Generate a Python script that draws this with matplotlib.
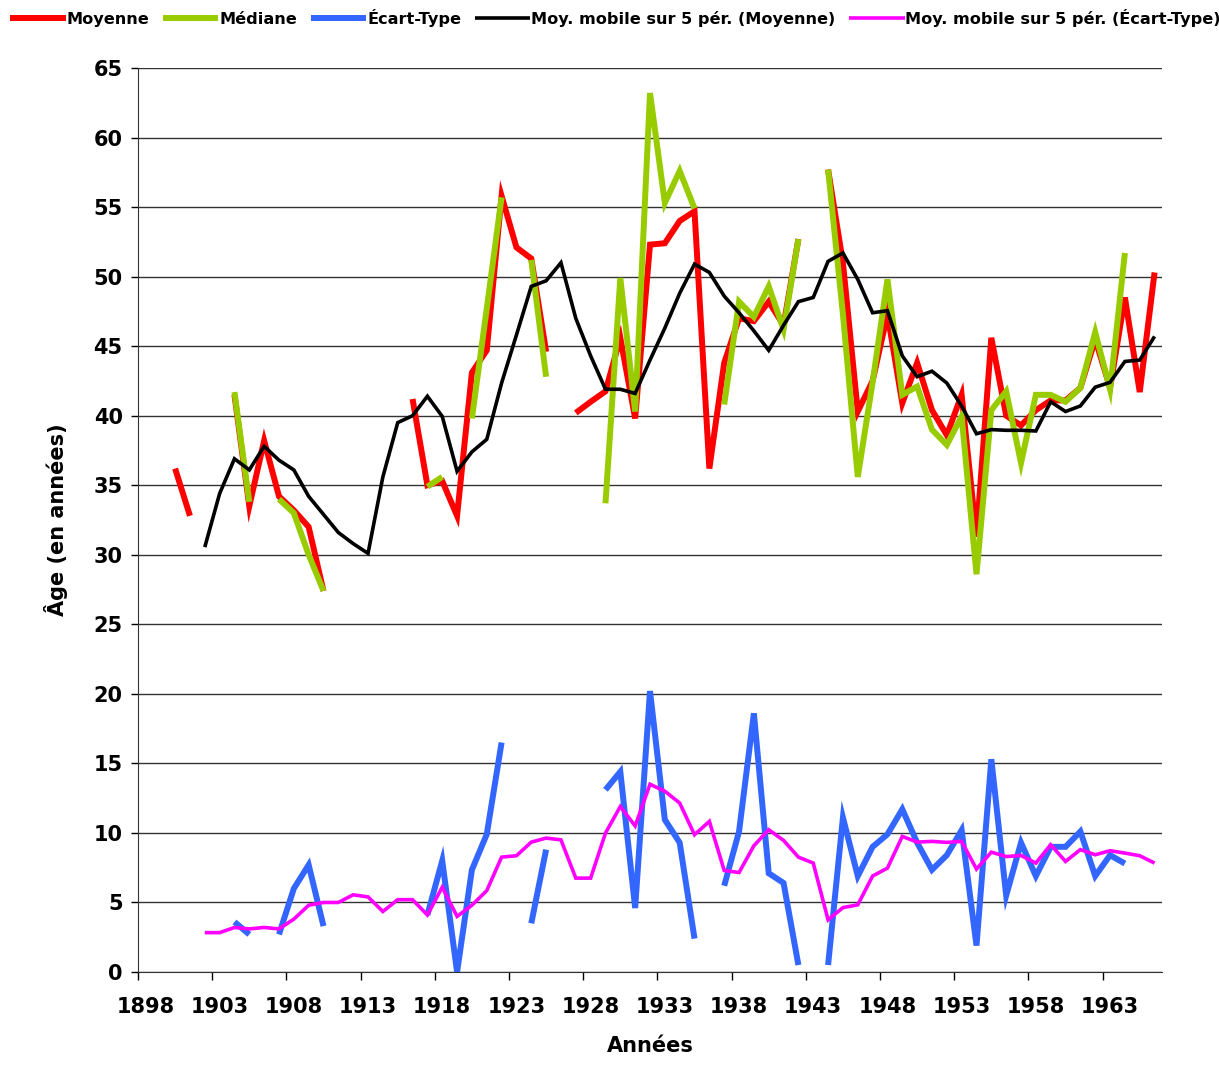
import numpy as np
import matplotlib.pyplot as plt

nan = np.nan

# Années 1898 -> 1966
annees = list(range(1898, 1967))

moyenne = [nan, nan, 36.2, 32.8, nan, nan, 41.5, 33.5, 38.2, 34.2,
           33.2, 32.0, 27.4, nan, nan, nan, nan, nan, 41.2, 35.0,
           35.3, 32.8, 43.1, 44.7, 55.8, 52.1, 51.3, 44.6, nan, 40.2,
           41.0, 41.75, 45.6, 39.8, 52.3, 52.4, 54.0, 54.7, 36.2, 43.8,
           47.0, 46.8, 48.2, 46.5, 52.7, nan, 57.7, 51.0, 40.3, 42.5,
           47.3, 40.9, 43.8, 40.4, 38.6, 41.5, 31.3, 45.6, 40.0, 39.3,
           40.4, 41.1, 41.1, 42.0, 45.5, 42.0, 48.5, 41.7, 50.3]

mediane = [nan, nan, nan, nan, nan, nan, 41.7, 33.8, nan, 34.0,
           33.0, 30.0, 27.4, nan, nan, nan, nan, nan, nan, 34.9,
           35.6, nan, 39.8, 47.7, 55.7, nan, 51.2, 42.8, nan, nan,
           nan, 33.7, 49.9, 40.3, 63.2, 55.3, 57.6, 54.9, nan, 40.8,
           48.2, 47.1, 49.3, 46.2, 52.7, nan, 57.7, 47.3, 35.6, 42.4,
           49.8, 41.5, 42.1, 39.0, 37.9, 39.95, 28.6, 40.4, 41.75, 36.6,
           41.5, 41.5, 41.0, 42.0, 46.0, 41.9, 51.7, nan, nan]

ecart_type = [nan, nan, nan, nan, nan, nan, 3.6, 2.7, nan, 2.7,
              6.0, 7.7, 3.3, nan, nan, nan, nan, nan, nan, 4.1,
              8.0, 0.0, 7.35, 9.9, 16.5, nan, 3.5, 8.8, nan, nan,
              nan, 13.1, 14.4, 4.6, 20.2, 10.95, 9.3, 2.4, nan, 6.2,
              10.1, 18.6, 7.1, 6.4, 0.5, nan, 0.5, 11.1, 6.9, 9.0,
              9.9, 11.7, 9.3, 7.35, 8.4, 10.2, 1.9, 15.3, 5.5, 9.3,
              6.9, 9.0, 9.0, 10.1, 6.9, 8.4, 7.8, nan, nan]

mm_moyenne = [nan, nan, nan, nan, 30.55, 34.4, 36.9, 36.1, 37.8, 36.8,
              36.1, 34.2, 32.9, 31.6, 30.8, 30.1, 35.6, 39.5, 40.0, 41.4,
              39.95, 36.0, 37.4, 38.3, 42.35, 45.8, 49.3, 49.7, 51.0, 47.0,
              44.3, 41.9, 41.9, 41.6, 44.0, 46.3, 48.8, 50.9, 50.3, 48.6,
              47.4, 46.1, 44.7, 46.5, 48.2, 48.5, 51.1, 51.7, 49.8, 47.4,
              47.55, 44.3, 42.8, 43.2, 42.35, 40.7, 38.7, 39.0, 38.95, 38.95,
              38.9, 41.0, 40.3, 40.7, 42.05, 42.4, 43.9, 44.0, 45.7]

mm_ecart = [nan, nan, nan, nan, 2.83, 2.83, 3.2, 3.1, 3.2, 3.1,
            3.8, 4.8, 5.0, 5.0, 5.55, 5.4, 4.35, 5.2, 5.2, 4.1,
            6.1, 4.0, 4.8, 5.85, 8.26, 8.36, 9.34, 9.63, 9.5, 6.75,
            6.75, 9.99, 11.9, 10.5, 13.5, 13.0, 12.15, 9.87, 10.83, 7.3,
            7.15, 9.08, 10.23, 9.46, 8.26, 7.83, 3.75, 4.63, 4.83, 6.9,
            7.47, 9.75, 9.34, 9.39, 9.32, 9.39, 7.4, 8.62, 8.3, 8.38,
            7.83, 9.15, 7.95, 8.8, 8.43, 8.72, 8.55, 8.36, 7.83]

fig = plt.figure(figsize=(12.19, 10.65), dpi=100)
ax = fig.add_axes([138 / 1219, 1 - 972 / 1065, 1024 / 1219, 904 / 1065])

style = dict(solid_joinstyle='miter', solid_capstyle='butt')
ax.plot(annees, moyenne, color='#FF0000', lw=4.3, label='Moyenne', **style)
ax.plot(annees, mediane, color='#99CC00', lw=4.3, label='Médiane', **style)
ax.plot(annees, ecart_type, color='#3366FF', lw=4.3, label='Écart-Type', **style)
ax.plot(annees, mm_moyenne, color='black', lw=2.6,
        label='Moy. mobile sur 5 pér. (Moyenne)', **style)
ax.plot(annees, mm_ecart, color='#FF00FF', lw=2.6,
        label='Moy. mobile sur 5 pér. (Écart-Type)', **style)

# axe des catégories : graduations entre les années
ax.set_xlim(1897.5, 1966.5)
ax.set_ylim(0, 65)
ax.set_xticks(np.arange(1897.5, 1967, 5))
ax.set_xticklabels([])
ax.set_xticks(np.arange(1898, 1967, 5), minor=True)
ax.set_xticklabels([str(a) for a in range(1898, 1967, 5)], minor=True)
ax.tick_params(axis='x', which='major', length=6, width=1, direction='out')
ax.tick_params(axis='x', which='minor', length=0, pad=18, labelsize=15)
ax.set_yticks(range(0, 66, 5))
ax.tick_params(axis='y', length=5, width=1, pad=6, labelsize=15)
for lab in ax.get_xticklabels(minor=True) + ax.get_yticklabels():
    lab.set_fontweight('bold')

ax.yaxis.grid(True, color='#333333', lw=1)
ax.set_axisbelow(True)
for s in ['top', 'right']:
    ax.spines[s].set_visible(False)
ax.spines['left'].set_color('#333333')
ax.spines['bottom'].set_color('#333333')

ax.set_xlabel('Années', fontsize=15, fontweight='bold', labelpad=14)
ax.set_ylabel('Âge (en années)', fontsize=15, fontweight='bold', labelpad=18)

fig.legend(loc='upper left', bbox_to_anchor=(10 / 1219, 1 - 9 / 1065), ncol=5,
           frameon=False, handlelength=3.45, handletextpad=0.05,
           columnspacing=0.85, borderaxespad=0, borderpad=0,
           prop={'weight': 'bold', 'size': 11.6})

fig.savefig('out.png', dpi=100)
